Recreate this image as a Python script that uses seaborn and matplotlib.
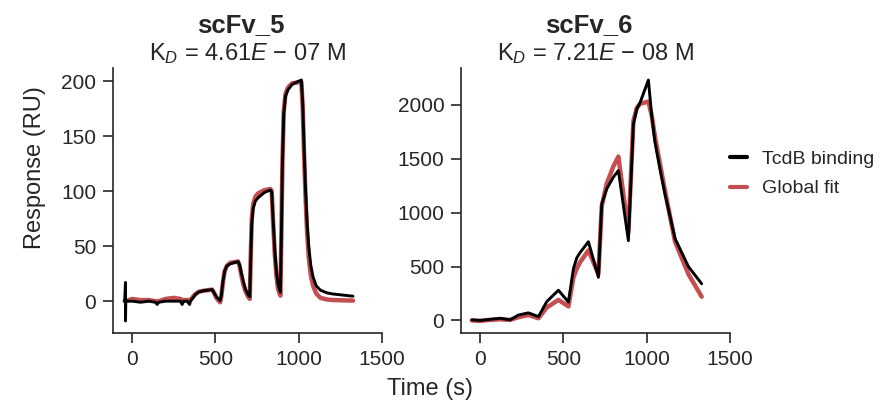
import matplotlib
matplotlib.use("Agg")
import matplotlib.pyplot as plt
import seaborn as sns

# scFv_5 sensorgram (time in s, response in RU)
time_5 = [-45, -40, -40, -38, 0, 50, 100, 140, 150, 160, 200, 250, 290, 300, 310, 330,
          345, 350, 365, 380, 400, 430, 480, 490, 508, 528,
          535, 545, 555, 568, 590, 636, 645, 655, 666, 680, 696, 706,
          712, 718, 726, 740, 756, 796, 830, 838, 846, 856, 866, 876, 890,
          896, 902, 910, 920, 935, 960, 1000, 1016, 1024, 1032, 1040, 1050, 1060,
          1072, 1086, 1105, 1130, 1170, 1206, 1326]
binding_5 = [0, 17, -18, 0, 0, -1, 0, -1, -3, -1, 0, 0, 0, -3, 0, 0,
             -3, 0, 3, 6, 8.5, 9.5, 10.5, 8, 3.5, 0.5,
             5, 18, 27, 32, 34, 36, 33, 26, 19, 11, 6, 4,
             40, 70, 84, 91, 94, 99, 101, 99, 75, 47, 27, 15, 8,
             60, 123, 170, 186, 192, 197, 200, 201, 180, 140, 105, 72, 50,
             33, 22, 14, 10, 7.5, 6.5, 4.5]
fit_5 = [0, 0, 0, 0, 2, 1, 1, 0, 0, 0, 2, 3, 2, 1, 1, 1,
         1, 1, 4, 6.5, 8.5, 9.5, 10.5, 8, 2.5, -1,
         4, 17, 27, 32, 35, 36, 32, 24, 16, 9, 4, 2,
         42, 74, 88, 95, 98, 101, 102, 100, 73, 43, 23, 11, 5,
         62, 125, 172, 188, 194, 198, 199, 199, 176, 134, 98, 63, 40,
         24, 14, 7, 3, 1.5, 1, 0.5]

# scFv_6 sensorgram
time_6 = [-50, 0, 60, 120, 180, 230, 290, 350, 400, 470, 530, 560, 580, 600, 650, 710,
          730, 760, 800, 830, 890, 920, 940, 960, 1010, 1030, 1050, 1080, 1110, 1170,
          1250, 1330]
binding_6 = [5, 0, 10, 20, 5, 50, 70, 35, 175, 280, 170, 480, 580, 630, 730, 400,
             1080, 1220, 1330, 1390, 740, 1820, 1960, 2020, 2230, 1900, 1650, 1400, 1170, 760,
             500, 340]
fit_6 = [0, -5, 5, 10, 5, 30, 50, 20, 120, 190, 130, 400, 480, 540, 650, 430,
         1060, 1270, 1430, 1520, 820, 1850, 1970, 2010, 2030, 1900, 1700, 1450, 1200, 730,
         430, 220]

panels = [("scFv_5", "K$_D$ = 4.61$E$ \u2212 07 M", time_5, binding_5, fit_5, [0, 50, 100, 150, 200]),
          ("scFv_6", "K$_D$ = 7.21$E$ \u2212 08 M", time_6, binding_6, fit_6, [0, 500, 1000, 1500, 2000])]

sns.set_theme(style="ticks")
plt.rcParams["font.family"] = ["Liberation Sans", "DejaVu Sans"]
plt.rcParams["mathtext.fontset"] = "custom"
plt.rcParams["mathtext.rm"] = "Liberation Sans"
plt.rcParams["mathtext.it"] = "Liberation Sans:italic"
plt.rcParams["mathtext.bf"] = "Liberation Sans:bold"

fig, axes = plt.subplots(1, 2, figsize=(8.81, 4.01), dpi=100)
fig.subplots_adjust(left=113 / 881, right=730 / 881, bottom=1 - 333 / 401,
                    top=1 - 68 / 401, wspace=79 / 269)

red = "#c44e52"
for ax, (name, kd, t, obs, fit, yticks) in zip(axes, panels):
    sns.lineplot(x=t, y=fit, ax=ax, color=red, lw=3.2, estimator=None, sort=False,
                 label="Global fit", legend=False)
    sns.lineplot(x=t, y=obs, ax=ax, color="black", lw=2.1, estimator=None, sort=False,
                 label="TcdB binding", legend=False)
    ax.set_xlim(-115, 1500)
    ax.set_xticks([0, 500, 1000, 1500])
    ax.set_yticks(yticks)
    ax.tick_params(labelsize=15, length=7, width=1.2, pad=5)
    for s in ax.spines.values():
        s.set_linewidth(1.2)
    ax.set_title(kd, fontsize=17, pad=5.5)
    ax.text(0.475, 1 + 36 / 265, name, transform=ax.transAxes, ha="center",
            va="baseline", fontsize=18.5, fontweight="bold")
    ax.set_xlabel("")
    ax.set_ylabel("")
sns.despine(fig=fig)

handles, labels = axes[1].get_legend_handles_labels()
order = [labels.index("TcdB binding"), labels.index("Global fit")]
leg = axes[1].legend([handles[i] for i in order], [labels[i] for i in order],
                     frameon=False, loc="center left", bbox_to_anchor=(1.0, 0.6),
                     fontsize=14, handlelength=0.9, handletextpad=0.75,
                     borderaxespad=0, borderpad=0, labelspacing=0.6)
for line in leg.get_lines():
    line.set_linewidth(3)

fig.text(35 / 881, 1 - 168 / 401, "Response (RU)", rotation=90, ha="center",
         va="center", fontsize=17)
fig.text(430 / 881, 1 - 389 / 401, "Time (s)", ha="center", va="center", fontsize=17)

fig.savefig("out.png", dpi=100)
